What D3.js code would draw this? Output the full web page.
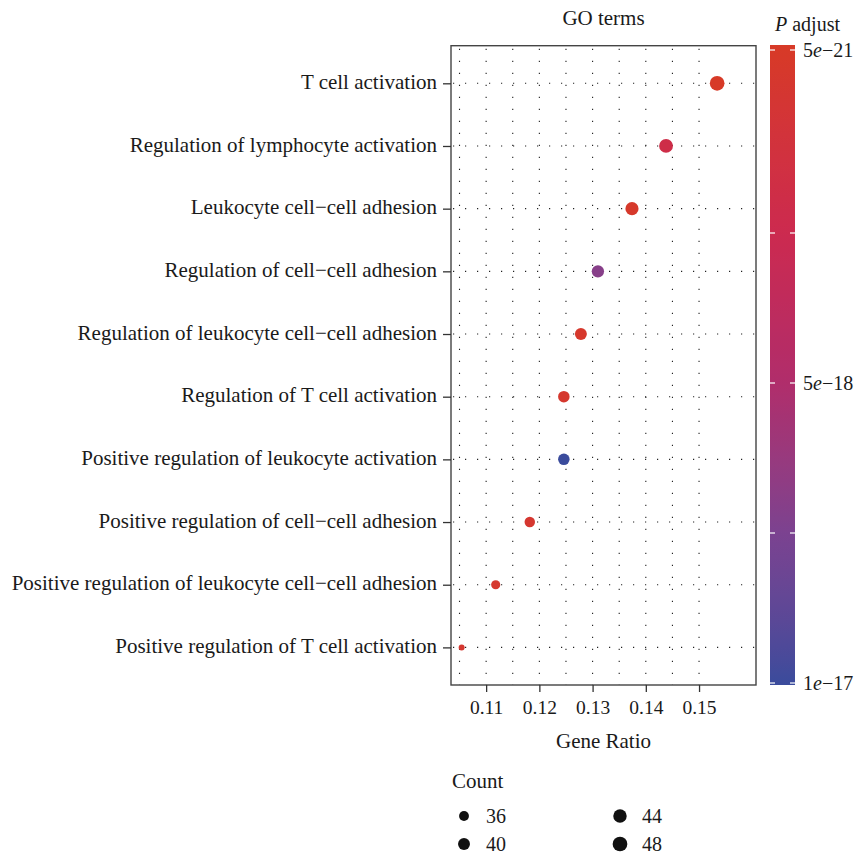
<!DOCTYPE html>
<html><head><meta charset="utf-8">
<script src="https://cdn.jsdelivr.net/npm/d3@7"></script>
<style>
html,body{margin:0;padding:0;background:#fff;}
text{font-family:"Liberation Serif","Times New Roman",serif;fill:#1a1a1a;}
</style></head>
<body>
<svg id="chart" width="857" height="860"></svg>
<script>
// ---- data ----
const terms = [
  "T cell activation",
  "Regulation of lymphocyte activation",
  "Leukocyte cell\u2212cell adhesion",
  "Regulation of cell\u2212cell adhesion",
  "Regulation of leukocyte cell\u2212cell adhesion",
  "Regulation of T cell activation",
  "Positive regulation of leukocyte activation",
  "Positive regulation of cell\u2212cell adhesion",
  "Positive regulation of leukocyte cell\u2212cell adhesion",
  "Positive regulation of T cell activation"
];
const geneRatio = [0.1534, 0.1438, 0.1374, 0.1310, 0.1278, 0.1246, 0.1246, 0.1182, 0.1118, 0.1054];
const counts    = [48, 45, 43, 41, 40, 39, 39, 37, 35, 33];
const pAdjust   = [5e-21, 2.0e-18, 2e-19, 7.0e-18, 3e-19, 4e-19, 1e-17, 5e-19, 4e-19, 5e-19];
const xTicks = [0.11, 0.12, 0.13, 0.14, 0.15];
const xGrid  = [0.105, 0.11, 0.115, 0.12, 0.125, 0.13, 0.135, 0.14, 0.145, 0.15];
const pTicks = [5e-21, 2.5e-18, 5e-18, 7.5e-18, 1e-17];
const pTickLabels = [["5","e","\u221221"], null, ["5","e","\u221218"], null, ["1","e","\u221217"]];
const sizeLegend = [36, 40, 44, 48];

// ---- layout ----
const svg = d3.select("#chart");
const P = {left: 451, right: 756, top: 45.7, bottom: 685};

const x = d3.scaleLinear().domain([0.1034, 0.1607]).range([P.left, P.right]);
const y = d3.scalePoint().domain(terms).range([P.top, P.bottom]).padding(0.6);
const r = d3.scaleSqrt().domain([0, 15]).range([3, 7.35]);
const rad = c => r(c - 33);
const colour = d3.scaleLinear()
  .domain([5e-21, 2.5e-18, 5e-18, 7.5e-18, 1e-17])
  .range(["#d73a27", "#cc2a4f", "#b02d6b", "#7b4290", "#3a4b9c"])
  .interpolate(d3.interpolateLab);

// grid
const grid = svg.append("g");
grid.selectAll("line.v").data(xGrid).join("line")
  .attr("x1", d => x(d)).attr("x2", d => x(d))
  .attr("y1", P.top + 3).attr("y2", P.bottom)
  .attr("stroke", "#222").attr("stroke-width", 1.1)
  .attr("stroke-dasharray", "1.2,10.8");
grid.selectAll("line.h").data(terms).join("line")
  .attr("x1", P.left + 2).attr("x2", P.right)
  .attr("y1", d => y(d)).attr("y2", d => y(d))
  .attr("stroke", "#222").attr("stroke-width", 1.1)
  .attr("stroke-dasharray", "1.2,10.8");

// points
const data = terms.map((t, i) => ({t, gr: geneRatio[i], c: counts[i], p: pAdjust[i]}));
svg.append("g").selectAll("circle").data(data).join("circle")
  .attr("cx", d => x(d.gr)).attr("cy", d => y(d.t))
  .attr("r", d => rad(d.c))
  .attr("fill", d => colour(d.p));

// panel border
svg.append("rect").attr("x", P.left).attr("y", P.top)
  .attr("width", P.right - P.left).attr("height", P.bottom - P.top)
  .attr("fill", "none").attr("stroke", "#444").attr("stroke-width", 1.4);

// axes
const xAxis = d3.axisBottom(x).tickValues(xTicks).tickSize(7).tickPadding(8)
  .tickFormat(d3.format(".2f"));
const gx = svg.append("g").attr("transform", `translate(0,${P.bottom})`).call(xAxis);
gx.select(".domain").remove();
gx.selectAll(".tick line").attr("stroke", "#333").attr("stroke-width", 1.3);
gx.selectAll(".tick text").attr("font-size", 19.5).attr("font-family", "Liberation Serif").attr("fill", "#1a1a1a");

const yAxis = d3.axisLeft(y).tickSize(8).tickPadding(6);
const gy = svg.append("g").attr("transform", `translate(${P.left},0)`).call(yAxis);
gy.select(".domain").remove();
gy.selectAll(".tick line").attr("stroke", "#333").attr("stroke-width", 1.3);
gy.selectAll(".tick text").attr("font-size", 21).attr("font-family", "Liberation Serif")
  .attr("fill", "#1a1a1a").attr("dy", "0.24em");

// titles
svg.append("text").attr("x", (P.left + P.right) / 2).attr("y", 25)
  .attr("text-anchor", "middle").attr("font-size", 21).text("GO terms");
svg.append("text").attr("x", (P.left + P.right) / 2).attr("y", 748)
  .attr("text-anchor", "middle").attr("font-size", 21).text("Gene Ratio");

// colour bar
const cb = {x: 770, w: 25, top: 45, bottom: 685};
const cbY = d3.scaleLinear().domain([5e-21, 2.5e-18, 1e-17]).range([50, 233, 683]);
const defs = svg.append("defs");
const grad = defs.append("linearGradient").attr("id", "cbgrad")
  .attr("x1", 0).attr("y1", 0).attr("x2", 0).attr("y2", 1);
d3.range(0, 1.0001, 0.02).forEach(t => {
  const py = cb.top + t * (cb.bottom - cb.top);
  const v = Math.max(5e-21, Math.min(1e-17, cbY.invert(py)));
  grad.append("stop").attr("offset", t).attr("stop-color", colour(v));
});
svg.append("rect").attr("x", cb.x).attr("y", cb.top).attr("width", cb.w)
  .attr("height", cb.bottom - cb.top).attr("fill", "url(#cbgrad)");
const cbt = svg.append("g");
pTicks.forEach((v, i) => {
  const py = cbY(v);
  cbt.append("line").attr("x1", cb.x).attr("x2", cb.x + 5).attr("y1", py).attr("y2", py)
    .attr("stroke", "#fff").attr("stroke-width", 1.2);
  cbt.append("line").attr("x1", cb.x + cb.w - 5).attr("x2", cb.x + cb.w).attr("y1", py).attr("y2", py)
    .attr("stroke", "#fff").attr("stroke-width", 1.2);
  const lab = pTickLabels[i];
  if (lab) {
    const t = cbt.append("text").attr("x", cb.x + cb.w + 8).attr("y", py + 7).attr("font-size", 20);
    t.append("tspan").text(lab[0]);
    t.append("tspan").attr("font-style", "italic").text(lab[1]);
    t.append("tspan").text(lab[2]);
  }
});
const pt = svg.append("text").attr("x", 775).attr("y", 31).attr("font-size", 20);
pt.append("tspan").attr("font-style", "italic").text("P");
pt.append("tspan").text(" adjust");

// size legend
svg.append("text").attr("x", 452).attr("y", 788).attr("font-size", 21).text("Count");
const lg = svg.append("g");
const legPos = [[464, 816], [464, 844], [620, 816], [620, 844]];
sizeLegend.forEach((c, i) => {
  const [lx, ly] = legPos[i];
  lg.append("circle").attr("cx", lx).attr("cy", ly).attr("r", rad(c)).attr("fill", "#111");
  lg.append("text").attr("x", lx + 22).attr("y", ly + 6.5).attr("font-size", 20).text(c);
});
</script>
</body></html>
